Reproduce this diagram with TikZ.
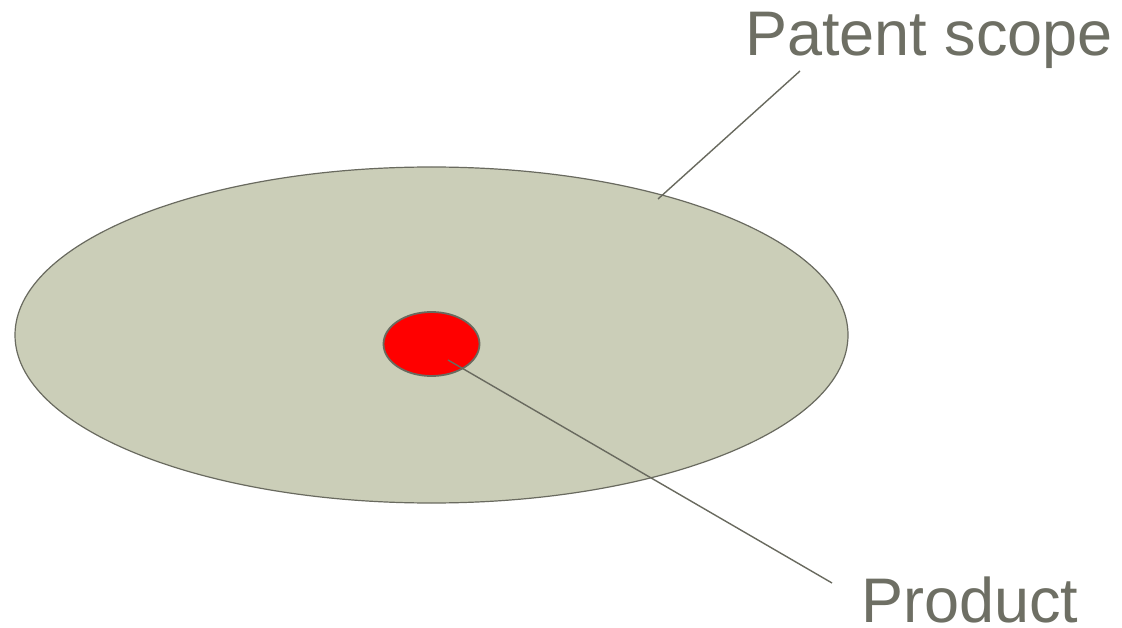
\documentclass[tikz,border=0pt]{standalone}
\usepackage{fontspec}
\setmainfont{Liberation Sans}
\begin{document}
\begin{tikzpicture}[x=1pt,y=-1pt,
  txt/.style={text=tgray,font=\fontsize{63}{70}\selectfont,inner sep=0pt},
  lead/.style={draw=lgray,line width=1.4pt}]
\definecolor{tgray}{RGB}{110,111,100}
\definecolor{lgray}{RGB}{105,106,95}
\definecolor{efill}{RGB}{203,206,184}
\useasboundingbox (0,0) rectangle (1122,628);
\fill[white] (0,0) rectangle (1122,628);
\filldraw[fill=efill,draw=lgray,line width=1.2pt] (431.5,335) ellipse [x radius=416.5, y radius=168];
\filldraw[fill=red,draw=lgray,line width=1.8pt] (431.5,344) ellipse [x radius=48, y radius=32];
\coordinate (pin) at (448,360);
\coordinate (ein) at (658,199);
\node[txt,anchor=base west] (scope) at (745,56) {Patent scope};
\node[txt,anchor=base west] (prod) at (861,622) {Product};
\coordinate (scopeend) at (800,71);
\coordinate (prodend) at (832,583);
\draw[lead] (ein) -- (scopeend);
\draw[lead] (pin) -- (prodend);
\end{tikzpicture}
\end{document}
